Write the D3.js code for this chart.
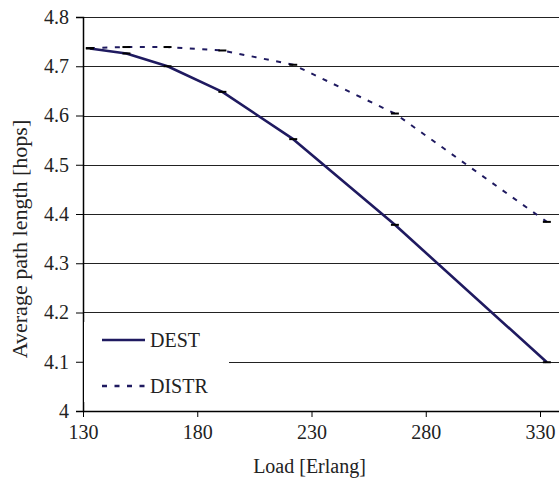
<!DOCTYPE html>
<html><head><meta charset="utf-8">
<script src="https://cdn.jsdelivr.net/npm/d3@7"></script>
<style>html,body{margin:0;padding:0;background:#fff;}svg{display:block;}
svg text{font-family:"Liberation Serif","Times New Roman",Times,"DejaVu Serif",serif !important;}</style>
</head><body><div id="chart"></div>
<script>
const loads = [133, 149, 167, 191, 222, 266.5, 333];
const destValues = [4.736, 4.726, 4.700, 4.648, 4.552, 4.378, 4.099];
const distrValues = [4.737, 4.739, 4.739, 4.732, 4.703, 4.604, 4.384];
const xTicks = [130, 180, 230, 280, 330];
const yTicks = [4, 4.1, 4.2, 4.3, 4.4, 4.5, 4.6, 4.7, 4.8];
const seriesNames = ["DEST", "DISTR"];

const W = 559, H = 479;
const mLeft = 83, mRight = 559, mTop = 17, mBottom = 411;
const lineColor = "#1f1a60";
const textColor = "#222";

const svg = d3.select("#chart").append("svg").attr("width", W).attr("height", H);

const x = d3.scaleLinear().domain([130, 130 + (mRight - mLeft) / 114.25 * 50]).range([mLeft, mRight]);
const y = d3.scaleLinear().domain([4, 4.8]).range([mBottom, mTop]);

// gridlines
svg.append("g").selectAll("line").data(yTicks.filter(d => d > 4))
  .join("line")
  .attr("x1", mLeft).attr("x2", mRight)
  .attr("y1", d => Math.round(y(d)) + 0.5).attr("y2", d => Math.round(y(d)) + 0.5)
  .attr("stroke", "#222").attr("stroke-width", 1.2);

// y axis
const yAxis = d3.axisLeft(y).tickValues(yTicks).tickSize(7).tickPadding(7)
  .tickFormat(d => d === 4 ? "4" : d3.format(".1f")(d));
const gy = svg.append("g").attr("transform", `translate(${mLeft},0)`).call(yAxis);
gy.select(".domain").attr("stroke", "#000").attr("stroke-width", 1.5);
gy.selectAll(".tick line").attr("stroke", "#000");
gy.selectAll(".tick text").attr("font-size", 20).attr("fill", textColor);

// x axis
const xAxis = d3.axisBottom(x).tickValues(xTicks).tickSize(6).tickPadding(8).tickSizeOuter(0);
const gx = svg.append("g").attr("transform", `translate(0,${mBottom})`).call(xAxis);
gx.select(".domain").attr("stroke", "#000").attr("stroke-width", 1.5);
gx.selectAll(".tick line").attr("stroke", "#000");
gx.selectAll(".tick text").attr("font-size", 20).attr("fill", textColor);

// legend background
svg.append("rect").attr("x", mLeft + 1).attr("y", 322).attr("width", 229 - mLeft - 1).attr("height", 80).attr("fill", "#fff");

// lines
const line = d3.line().x((d, i) => x(loads[i])).y(d => y(d)).curve(d3.curveLinear);
svg.append("path").datum(destValues).attr("d", line)
  .attr("fill", "none").attr("stroke", lineColor).attr("stroke-width", 2.6).attr("stroke-linejoin", "round");
svg.append("path").datum(distrValues).attr("d", line)
  .attr("fill", "none").attr("stroke", lineColor).attr("stroke-width", 2)
  .attr("stroke-dasharray", "5,7.5");

// error bar caps
[destValues, distrValues].forEach(vals => {
  svg.append("g").selectAll("line").data(vals).join("line")
    .attr("x1", (d, i) => x(loads[i]) - 4).attr("x2", (d, i) => x(loads[i]) + 4)
    .attr("y1", d => y(d)).attr("y2", d => y(d))
    .attr("stroke", "#000").attr("stroke-width", 2);
});

// legend
const legY = [340, 386];
seriesNames.forEach((name, i) => {
  svg.append("line").attr("x1", 102).attr("x2", 145).attr("y1", legY[i]).attr("y2", legY[i])
    .attr("stroke", lineColor).attr("stroke-width", i === 0 ? 2.6 : 2.4)
    .attr("stroke-dasharray", i === 0 ? null : "5,7.5");
  svg.append("text").attr("x", 150).attr("y", legY[i]).attr("dy", "0.35em")
    .attr("font-size", 20).attr("fill", textColor).text(name);
});

// axis titles
svg.append("text").attr("x", (mLeft + 540) / 2 - 2).attr("y", 473)
  .attr("text-anchor", "middle").attr("font-size", 20).attr("fill", textColor)
  .text("Load [Erlang]");
svg.append("text").attr("transform", `translate(27,239) rotate(-90)`)
  .attr("text-anchor", "middle").attr("font-size", 22).attr("fill", textColor)
  .text("Average path length [hops]");
</script></body></html>
